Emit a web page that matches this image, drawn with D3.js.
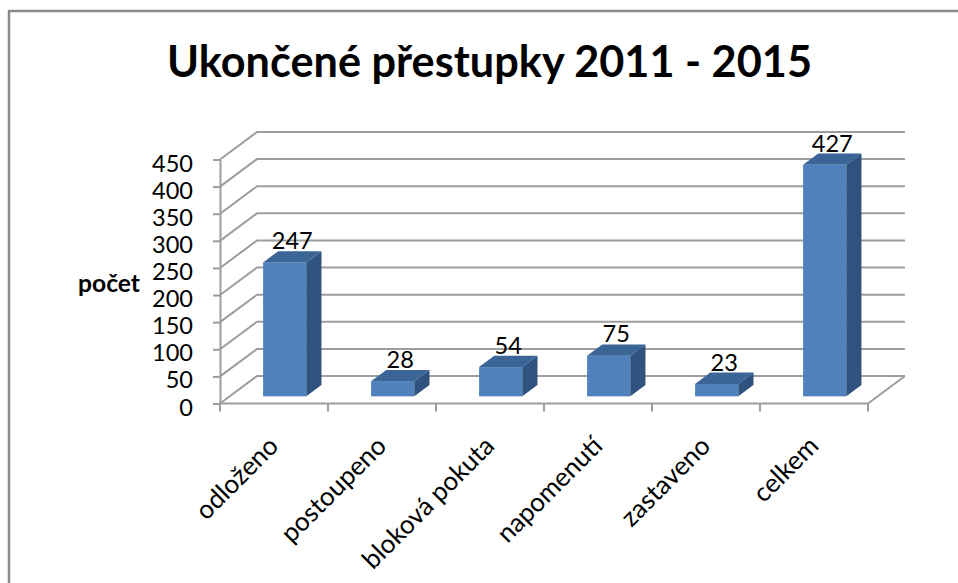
<!DOCTYPE html>
<html><head><meta charset="utf-8">
<script src="https://cdn.jsdelivr.net/npm/d3@7"></script>
<style>html,body{margin:0;padding:0;background:#fff;}svg{display:block;}</style>
</head><body>
<script>
const categories = ["odloženo","postoupeno","bloková pokuta","napomenutí","zastaveno","celkem"];
const values = [247, 28, 54, 75, 23, 427];
const yTicks = [0, 50, 100, 150, 200, 250, 300, 350, 400, 450];
const titleText = "Ukončené přestupky 2011 - 2015";
const yAxisTitle = "počet";

const W = 958, H = 583;
const FONT = "Lato, 'Open Sans', sans-serif";
const svg = d3.select("body").append("svg").attr("width", W).attr("height", H);

// fit a text's font size so its width matches a target
function fitSize(text, weight, target) {
  const t = svg.append("text").attr("font-family", FONT).attr("font-weight", weight)
    .attr("font-size", 40).text(text);
  const w = t.node().getComputedTextLength();
  t.remove();
  return 40 * target / w;
}

// outer frame
svg.append("path").attr("d", `M9,${H} L9,11 L${W},11`).attr("fill", "none")
  .attr("stroke", "#8a8a8a").attr("stroke-width", 2.5);

// title
svg.append("text").attr("x", 489.5).attr("y", 77).attr("text-anchor", "middle")
  .attr("font-family", FONT).attr("font-weight", 700)
  .attr("font-size", fitSize(titleText, 700, 645)).attr("fill", "#000").text(titleText);

// scales
const x = d3.scaleBand().domain(categories).range([220, 868]).padding(0);
const y = d3.scaleLinear().domain([0, 450]).range([403.5, 159.5]);
const DX = 37, DY = -27.5;      // depth vector of the 3D box
const F0 = 0.26, F1 = 0.67;     // bar depth range (fractions)
const GRID = "#9d9d9d";

const g = svg.append("g");
// back wall gridlines + left wall diagonals
yTicks.forEach(v => {
  const yy = y(v);
  g.append("path").attr("d", `M${x.range()[0]},${yy} L${x.range()[0] + DX},${yy + DY} L${x.range()[1] + DX},${yy + DY}`)
    .attr("fill", "none").attr("stroke", GRID).attr("stroke-width", 2);
});
// right floor edge
g.append("line").attr("x1", x.range()[1]).attr("y1", y(0)).attr("x2", x.range()[1] + DX).attr("y2", y(0) + DY)
  .attr("stroke", GRID).attr("stroke-width", 2);

// y axis
const yAxis = svg.append("g").attr("transform", `translate(${x.range()[0]},0)`)
  .call(d3.axisLeft(y).tickValues(yTicks).tickSize(7).tickPadding(20).tickSizeOuter(0));
yAxis.select(".domain").attr("stroke", GRID).attr("stroke-width", 2);
yAxis.selectAll(".tick line").attr("stroke", GRID).attr("stroke-width", 2);
const tickFs = fitSize("450", 400, 41);
yAxis.selectAll(".tick text").attr("font-family", FONT).attr("font-size", tickFs)
  .attr("fill", "#000").attr("dy", null).attr("y", 0).attr("dominant-baseline", "central")
  .attr("transform", "translate(0,2.5)");

// y axis title
svg.append("text").attr("x", 109).attr("y", 291.5).attr("text-anchor", "middle")
  .attr("font-family", FONT).attr("font-weight", 700)
  .attr("font-size", fitSize(yAxisTitle, 700, 62)).attr("fill", "#000").text(yAxisTitle);

// x axis (front floor edge) with ticks at category boundaries
const xa = svg.append("g");
xa.append("line").attr("x1", x.range()[0]).attr("x2", x.range()[1]).attr("y1", y(0)).attr("y2", y(0))
  .attr("stroke", GRID).attr("stroke-width", 2);
const bounds = categories.map(c => x(c)).concat([x.range()[1]]);
xa.selectAll("line.tk").data(bounds).join("line").attr("class", "tk")
  .attr("x1", d => d).attr("x2", d => d).attr("y1", y(0)).attr("y2", y(0) + 8)
  .attr("stroke", GRID).attr("stroke-width", 2);

// category labels
const catFs = fitSize("bloková pokuta", 400, 174);
xa.selectAll("text.cat").data(categories).join("text").attr("class", "cat")
  .attr("transform", d => `translate(${x(d) + x.bandwidth() / 2 + 6},${y(0) + 44}) rotate(-45)`)
  .attr("text-anchor", "end").attr("font-family", FONT).attr("font-size", catFs)
  .attr("fill", "#000").text(d => d);

// bars
const bw = x.bandwidth() * 0.4;
const bx = d => x(d) + x.bandwidth() * 0.31;
const fx0 = DX * F0, fy0 = DY * F0;
const ddx = DX * (F1 - F0), ddy = DY * (F1 - F0);
const bars = svg.append("g").selectAll("g").data(categories.map((c, i) => ({ c, v: values[i] }))).join("g");
bars.append("rect").attr("x", d => bx(d.c) + fx0).attr("y", d => y(d.v) + fy0)
  .attr("width", bw).attr("height", d => y(0) - y(d.v)).attr("fill", "#4f81bd");
bars.append("path").attr("fill", "#30527e").attr("d", d => {
  const x1 = bx(d.c) + fx0 + bw, yt = y(d.v) + fy0, yb = y(0) + fy0;
  return `M${x1},${yt} L${x1 + ddx},${yt + ddy} L${x1 + ddx},${yb + ddy} L${x1},${yb} Z`;
});
bars.append("path").attr("fill", "#3b6497").attr("d", d => {
  const x0 = bx(d.c) + fx0, yt = y(d.v) + fy0;
  return `M${x0},${yt} L${x0 + bw},${yt} L${x0 + bw + ddx},${yt + ddy} L${x0 + ddx},${yt + ddy} Z`;
});
bars.append("text").attr("x", d => bx(d.c) + fx0 + bw / 2 + ddx / 2)
  .attr("y", d => y(d.v) + fy0 + ddy - 2).attr("text-anchor", "middle")
  .attr("font-family", FONT).attr("font-size", tickFs).attr("fill", "#000").text(d => d.v);
</script>
</body></html>
